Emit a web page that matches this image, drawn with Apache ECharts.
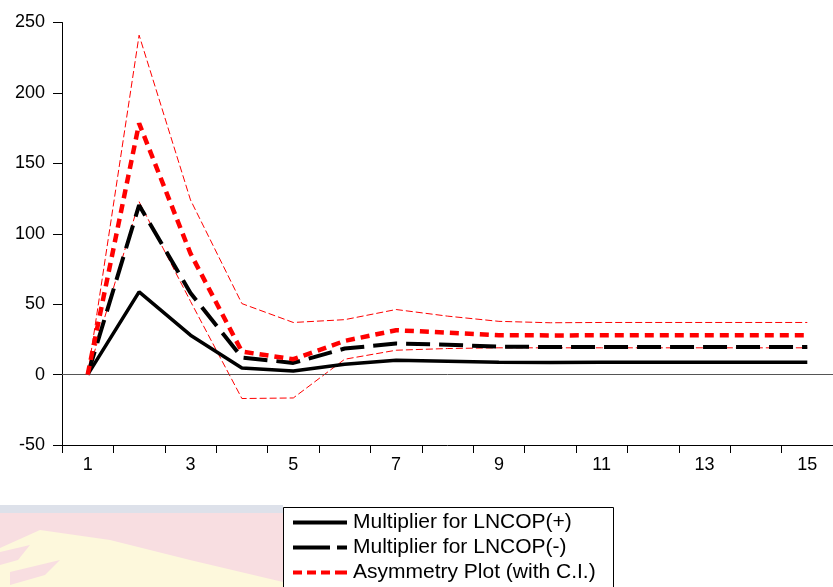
<!DOCTYPE html>
<html>
<head>
<meta charset="utf-8">
<script src="https://cdn.jsdelivr.net/npm/echarts@6/dist/echarts.min.js"></script>
<style>
html,body{margin:0;padding:0;background:#fff;}
#chart{width:833px;height:587px;}
</style>
</head>
<body>
<div id="chart"></div>
<script>
const categories = ['1','2','3','4','5','6','7','8','9','10','11','12','13','14','15'];
const yTicks = { min: -50, max: 250, interval: 50 };
const multPos = [0, 58.7, 28, 4.7, 2.6, 7.3, 10.2, 9.5, 8.8, 8.6, 8.7, 8.8, 8.8, 8.8, 8.8];
const multNeg = [0, 120.3, 58, 12.1, 8.3, 18.5, 22, 21.2, 19.8, 19.6, 19.6, 19.6, 19.6, 19.6, 19.6];
const asym = [0, 178.4, 86, 16.3, 10.9, 23.9, 31.5, 29.8, 28, 27.8, 27.9, 28, 28, 28, 28];
const ciUpper = [0, 241, 124, 50.4, 37, 39, 46.2, 41.5, 37.8, 36.8, 37, 37, 37, 37, 37];
const ciLower = [0, 122.7, 52, -17, -16.6, 10.9, 17.3, 18.5, 19, 19, 19, 19, 19, 19, 19];
const legendNames = ['Multiplier for LNCOP(+)', 'Multiplier for LNCOP(-)', 'Asymmetry Plot (with C.I.)'];

const FONT = '"Liberation Sans", Arial, sans-serif';
const chart = echarts.init(document.getElementById('chart'), null, { renderer: 'canvas' });

const option = {
  backgroundColor: '#ffffff',
  animation: false,
  textStyle: { fontFamily: FONT, color: '#000' },
  grid: { left: 62, top: 22.5, width: 774, bottom: 142, containLabel: false },
  graphic: [
    { type: 'rect', z: -10, shape: { x: 0, y: 505, width: 283, height: 8 }, style: { fill: '#dde1ea' } },
    { type: 'rect', z: -10, shape: { x: 0, y: 513, width: 283, height: 80 }, style: { fill: '#f8dee1' } },
    { type: 'polygon', z: -9, shape: { points: [[0,548],[40,530],[110,540],[190,560],[283,582],[283,590],[0,590]] }, style: { fill: '#fdf8dc' } },
    { type: 'polygon', z: -8, shape: { points: [[0,552],[30,545],[18,560],[0,565]] }, style: { fill: '#f8dee1' } },
    { type: 'polygon', z: -8, shape: { points: [[10,572],[60,560],[45,575],[10,585]] }, style: { fill: '#f8dee1' } },
    { type: 'rect', z: 50, shape: { x: 283.5, y: 507.5, width: 330, height: 100 }, style: { fill: '#ffffff', stroke: '#000', lineWidth: 1 } }
  ],
  legend: {
    data: [
      { name: legendNames[0], icon: 'path://M0,0h54v4h-54z' },
      { name: legendNames[1], icon: 'path://M0,0h37v4h-37z M44,0h10v4h-10z' },
      { name: legendNames[2], icon: 'path://M0,0h9v4h-9z M14,0h9v4h-9z M28,0h9v4h-9z M42,0h12v4h-12z' }
    ],
    orient: 'vertical',
    left: 289,
    top: 510,
    z: 60,
    symbolKeepAspect: false,
    itemWidth: 54,
    itemHeight: 4,
    itemGap: 4,
    padding: [2, 4, 2, 4],
    textStyle: { fontFamily: FONT, fontSize: 21, lineHeight: 21, color: '#000', padding: [0, 0, 0, 1] }
  },
  xAxis: {
    type: 'category',
    data: categories,
    boundaryGap: true,
    axisLine: { show: true, onZero: false, lineStyle: { color: '#000', width: 1 } },
    axisTick: { show: true, interval: 0, length: 8, inside: false, lineStyle: { color: '#000', width: 1 } },
    axisLabel: { interval: 1, margin: 11, fontFamily: FONT, fontSize: 18, color: '#000' },
    splitLine: { show: false }
  },
  yAxis: {
    type: 'value',
    min: yTicks.min,
    max: yTicks.max,
    interval: yTicks.interval,
    axisLine: { show: true, lineStyle: { color: '#000', width: 1 } },
    axisTick: { show: true, length: 9, lineStyle: { color: '#000', width: 1 } },
    axisLabel: { margin: 17, fontFamily: FONT, fontSize: 18, color: '#000' },
    splitLine: { show: false }
  },
  series: [
    {
      name: 'Upper C.I.', type: 'line', data: ciUpper, symbol: 'none', z: 2,
      lineStyle: { color: '#ff0000', width: 1, type: [7, 3] },
      markLine: {
        silent: true, symbol: 'none', label: { show: false },
        lineStyle: { color: '#555', width: 1, type: 'solid' },
        data: [{ yAxis: 0 }]
      }
    },
    {
      name: 'Lower C.I.', type: 'line', data: ciLower, symbol: 'none', z: 2,
      lineStyle: { color: '#ff0000', width: 1, type: [7, 3] }
    },
    {
      name: legendNames[0], type: 'line', data: multPos, symbol: 'none', z: 3,
      itemStyle: { color: '#000' },
      lineStyle: { color: '#000', width: 3.5, type: 'solid' }
    },
    {
      name: legendNames[1], type: 'line', data: multNeg, symbol: 'none', z: 4,
      itemStyle: { color: '#000' },
      lineStyle: { color: '#000', width: 4, type: [24, 9] }
    },
    {
      name: legendNames[2], type: 'line', data: asym, symbol: 'none', z: 5,
      itemStyle: { color: '#ff0000' },
      lineStyle: { color: '#ff0000', width: 4.5, type: [9, 6] }
    }
  ]
};
chart.setOption(option);
</script>
</body>
</html>
